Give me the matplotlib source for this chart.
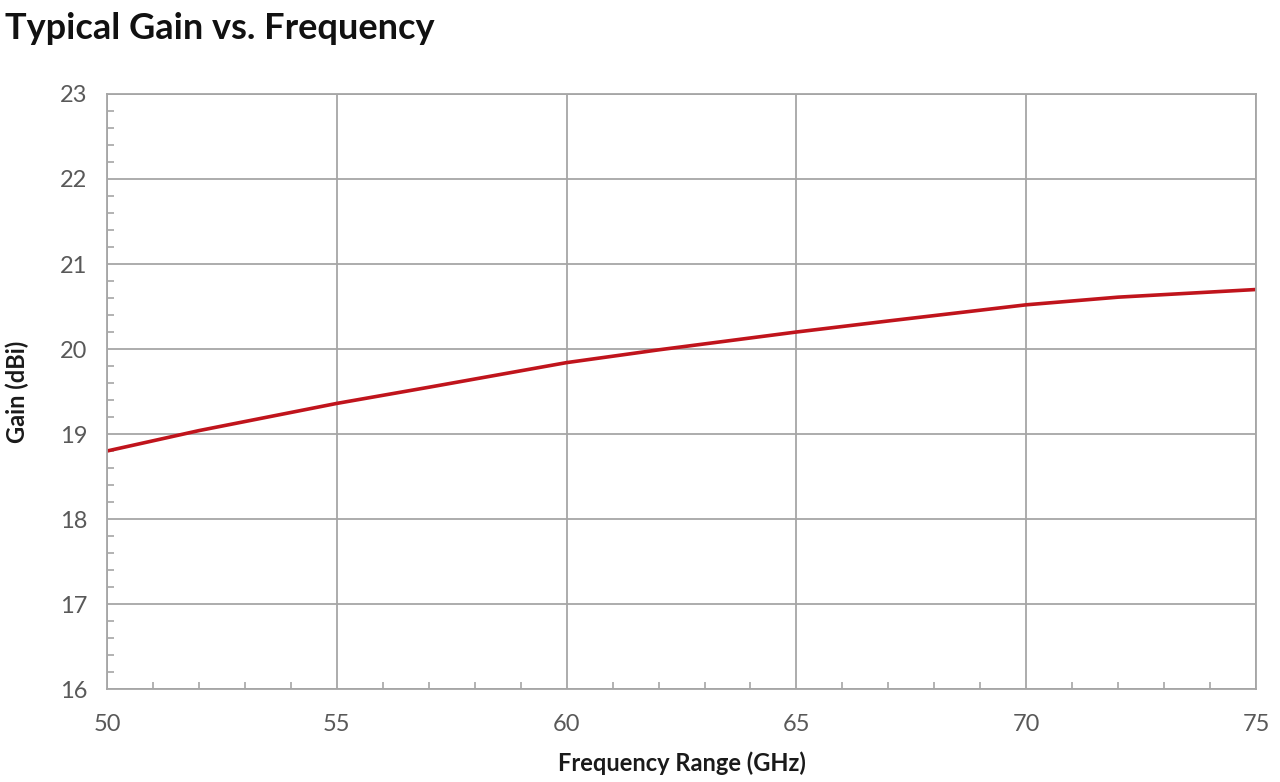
import matplotlib
matplotlib.use("Agg")
import matplotlib.pyplot as plt
from matplotlib.ticker import MultipleLocator

freq = [50, 52, 55, 57, 60, 62, 65, 67, 70, 72, 75]
gain = [18.80, 19.04, 19.36, 19.55, 19.84, 19.99, 20.20, 20.33, 20.52, 20.61, 20.70]

x_ticks = [50, 55, 60, 65, 70, 75]
y_ticks = [16, 17, 18, 19, 20, 21, 22, 23]

fig = plt.figure(figsize=(12.8, 7.82), dpi=100)
ax = fig.add_axes([0.0836, 0.1189, 0.8977, 0.7609])

ax.plot(freq, gain, color="#c0141c", linewidth=2.6, solid_capstyle="butt")
ax.set_xlim(50, 75)
ax.set_ylim(16, 23)
ax.set_xticks(x_ticks)
ax.set_yticks(y_ticks)
ax.xaxis.set_minor_locator(MultipleLocator(1))
ax.yaxis.set_minor_locator(MultipleLocator(0.2))
ax.grid(True, which="major", color="#a6a6a6", linewidth=1.3)
ax.set_axisbelow(True)
for s in ax.spines.values():
    s.set_color("#a6a6a6")
    s.set_linewidth(1.3)
ax.tick_params(which="major", length=0, labelsize=17, labelcolor="#595959", pad=14)
ax.tick_params(axis="x", which="major", pad=18)
ax.tick_params(which="minor", direction="in", length=5, color="#a6a6a6", width=1.2)

ax.set_xlabel("Frequency Range (GHz)", fontsize=17, fontweight="bold", family="Lato", color="#1a1a1a", labelpad=12)
ax.set_ylabel("Gain (dBi)", fontsize=17, fontweight="bold", family="Lato", color="#1a1a1a", labelpad=22)
for lab in ax.get_xticklabels() + ax.get_yticklabels():
    lab.set_family("Lato")

fig.text(0.004, 0.985, "Typical Gain vs. Frequency", fontsize=26, fontweight="bold",
         family="Lato", color="#111111", ha="left", va="top")

fig.savefig("out.png", dpi=100, facecolor="white")
